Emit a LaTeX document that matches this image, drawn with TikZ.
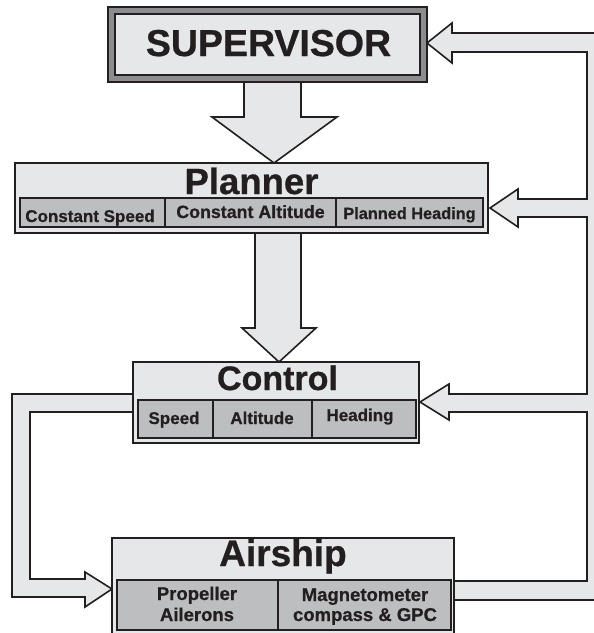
\documentclass[tikz,border=0pt]{standalone}
\usepackage{fontspec}
\setmainfont{Liberation Sans}[BoldFeatures={FakeBold=0.7}]
\usetikzlibrary{calc}
\definecolor{boxfill}{HTML}{E6E7E8}
\definecolor{rowfill}{HTML}{BCBEC0}
\definecolor{ink}{HTML}{231F20}
\definecolor{band}{HTML}{8A8C8E}
\tikzset{
  box/.style={draw=ink,fill=boxfill,line width=1.6pt,rectangle,inner sep=0pt},
  cell/.style={draw=ink,fill=rowfill,line width=1.8pt,rectangle,inner sep=0pt},
  barrow/.style={draw=ink,fill=boxfill,line width=1.6pt,line join=miter},
  title/.style={anchor=base,inner sep=0pt,text=ink},
  lbl/.style={anchor=base,inner sep=0pt,text=ink,font=\bfseries\fontsize{17}{20}\selectfont},
  lbltwo/.style={anchor=base,inner sep=0pt,text=ink,font=\bfseries\fontsize{18.5}{21}\selectfont},
}
\begin{document}
\begin{tikzpicture}[x=1pt,y=-1pt]
\useasboundingbox (0,0) rectangle (594,633);
\clip (0,0) rectangle (594,633);
\fill[white] (0,0) rectangle (594,633);

% feedback channel on the right
\draw[barrow] (427,43) -- (452,23) -- (452,33) -- (612,33) -- (612,600)
  -- (454,600) -- (454,581) -- (587,581) -- (587,412) -- (449,412)
  -- (449,420) -- (420,402) -- (449,384) -- (449,394) -- (587,394)
  -- (587,217) -- (518,217) -- (518,227) -- (490,208) -- (518,189)
  -- (518,199) -- (587,199) -- (587,52) -- (452,52) -- (452,63) -- cycle;

% left loop control -> airship
\draw[barrow] (134,394) -- (12,394) -- (12,597) -- (85,597) -- (85,607)
  -- (112,589) -- (85,572) -- (85,579) -- (30,579) -- (30,412) -- (134,412) -- cycle;

% supervisor -> planner
\draw[barrow] (244,82) -- (244,117) -- (212,117) -- (274,163) -- (337,117)
  -- (301,117) -- (301,82);
% planner -> control
\draw[barrow] (255,233) -- (255,328) -- (242,328) -- (279,362) -- (316,328)
  -- (301,328) -- (301,233);

% SUPERVISOR
\node[draw=ink,fill=band,line width=1.6pt,inner sep=0pt,minimum width=319pt,minimum height=75pt] (sup) at (267.5,44.5) {};
\node[box,line width=1.1pt,minimum width=305pt,minimum height=61pt] (supin) at (sup.center) {};
\node[title,font=\bfseries\fontsize{37.5}{40}\selectfont] (supt) at (268.5,56) {SUPERVISOR};

% Planner
\node[box,minimum width=473pt,minimum height=70pt] (plan) at (251.5,198) {};
\node[title,font=\bfseries\fontsize{36.5}{38}\selectfont] (plant) at (251.5,194) {Planner};
\node[cell,minimum width=145pt,minimum height=29pt] (plan1) at (92.5,212.5) {};
\node[cell,minimum width=171pt,minimum height=29pt] (plan2) at (250.5,212.5) {};
\node[cell,minimum width=147pt,minimum height=29pt] (plan3) at (409.5,212.5) {};
\node[lbl] (plan1t) at (90,222) {Constant Speed};
\node[lbl,font=\bfseries\fontsize{17.8}{20}\selectfont] (plan2t) at (250.5,218) {Constant Altitude};
\node[lbl,font=\bfseries\fontsize{16.3}{20}\selectfont] (plan3t) at (409.5,219) {Planned Heading};

% Control
\node[box,minimum width=286pt,minimum height=81pt] (ctrl) at (276,402.5) {};
\node[title,font=\bfseries\fontsize{34}{36}\selectfont] (ctrlt) at (277.5,390) {Control};
\node[cell,minimum width=75pt,minimum height=38pt] (ctrl1) at (175.5,419) {};
\node[cell,minimum width=99pt,minimum height=38pt] (ctrl2) at (262.5,419) {};
\node[cell,minimum width=104pt,minimum height=38pt] (ctrl3) at (364,419) {};
\node[lbl] (ctrl1t) at (174,424) {Speed};
\node[lbl] (ctrl2t) at (262,424) {Altitude};
\node[lbl] (ctrl3t) at (360,421) {Heading};

% Airship
\node[box,minimum width=342pt,minimum height=98pt] (air) at (283,587) {};
\node[title,font=\bfseries\fontsize{37}{40}\selectfont] (airt) at (283,566) {Airship};
\node[cell,minimum width=161pt,minimum height=50pt] (air1) at (197.5,605) {};
\node[cell,minimum width=173pt,minimum height=50pt] (air2) at (364.5,605) {};
\node[lbltwo] (air1a) at (197,600) {Propeller};
\node[lbltwo] (air1b) at (197,621) {Ailerons};
\node[lbltwo] (air2a) at (365,601) {Magnetometer};
\node[lbltwo] (air2b) at (365,621) {compass \& GPC};
\end{tikzpicture}
\end{document}
